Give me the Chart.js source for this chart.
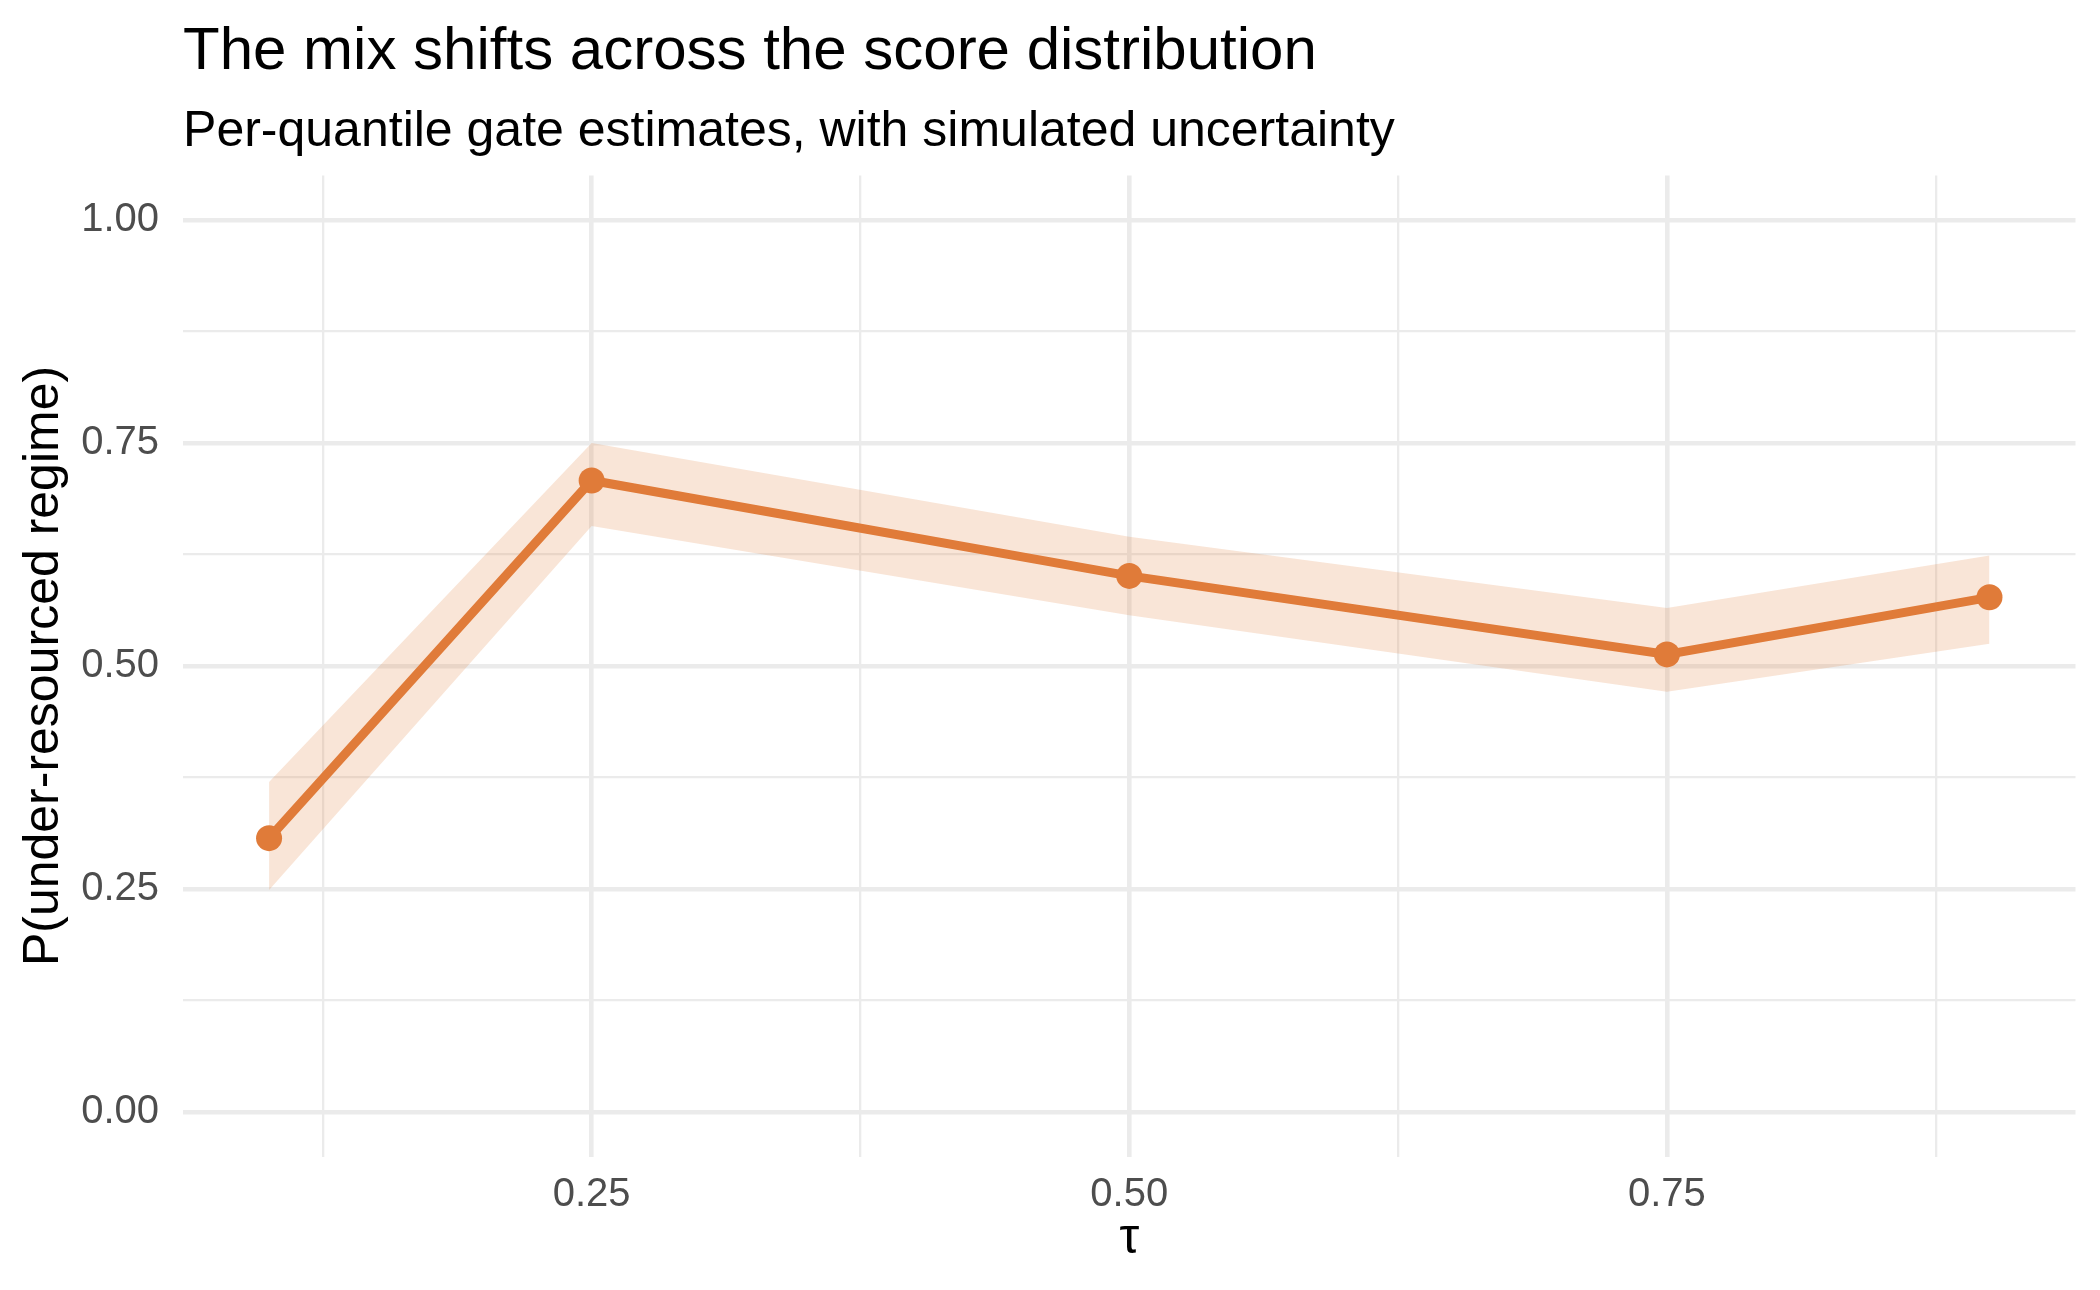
<!DOCTYPE html>
<html>
<head>
<meta charset="utf-8">
<script src="https://cdn.jsdelivr.net/npm/chart.js@4/dist/chart.umd.min.js"></script>
<style>
  html, body { margin: 0; padding: 0; background: #ffffff; }
  #wrap { width: 2100px; height: 1290px; }
</style>
</head>
<body>
<div id="wrap"><canvas id="c" width="2100" height="1290"></canvas></div>
<script>
// ---- data ----
const tau      = [0.10, 0.25, 0.50, 0.75, 0.90];
const estimate = [0.307, 0.708, 0.601, 0.513, 0.577];
const lower    = [0.249, 0.657, 0.557, 0.471, 0.525];
const upper    = [0.370, 0.750, 0.645, 0.565, 0.624];

const xTickValues = [0.125, 0.25, 0.375, 0.50, 0.625, 0.75, 0.875];
const xTickLabels = ['', '0.25', '', '0.50', '', '0.75', ''];
const yTickValues = [0, 0.125, 0.25, 0.375, 0.50, 0.625, 0.75, 0.875, 1.00];
const yTickLabels = ['0.00', '', '0.25', '', '0.50', '', '0.75', '', '1.00'];

const titleText    = 'The mix shifts across the score distribution';
const subtitleText = 'Per-quantile gate estimates, with simulated uncertainty';
const xTitle = 'τ';
const yTitle = 'P(under-resourced regime)';

// ---- styles ----
const FONT = '"Liberation Sans", Arial, Helvetica, sans-serif';
const ORANGE = '#E07B39';
const BAND = 'rgba(224,123,57,0.2)';
const GRID = '#EBEBEB';

const pts = (ys) => tau.map((t, i) => ({ x: t, y: ys[i] }));

function isMajor(v) { return Math.abs(v * 4 - Math.round(v * 4)) < 1e-9; }

const ctx = document.getElementById('c').getContext('2d');
new Chart(ctx, {
  type: 'line',
  data: {
    datasets: [
      {
        label: 'estimate',
        data: pts(estimate),
        borderColor: ORANGE,
        backgroundColor: ORANGE,
        borderWidth: 9,
        pointRadius: 13,
        pointHoverRadius: 13,
        pointBorderWidth: 0,
        pointBackgroundColor: ORANGE,
        fill: false,
        tension: 0
      },
      {
        label: 'upper',
        data: pts(upper),
        borderWidth: 0,
        borderColor: 'rgba(0,0,0,0)',
        pointRadius: 0,
        fill: false,
        tension: 0
      },
      {
        label: 'lower',
        data: pts(lower),
        borderWidth: 0,
        borderColor: 'rgba(0,0,0,0)',
        backgroundColor: BAND,
        pointRadius: 0,
        fill: '-1',
        tension: 0
      }
    ]
  },
  options: {
    responsive: false,
    animation: false,
    devicePixelRatio: 1,
    layout: { padding: { left: 14.5, right: 24.5, top: 0, bottom: 21 } },
    plugins: {
      legend: { display: false },
      tooltip: { enabled: false },
      title: {
        display: true,
        text: titleText,
        align: 'start',
        fullSize: false,
        color: '#000000',
        font: { family: FONT, size: 60, weight: 'normal', lineHeight: 1.2 },
        padding: { top: 16, bottom: 3 }
      },
      subtitle: {
        display: true,
        text: subtitleText,
        align: 'start',
        fullSize: false,
        color: '#000000',
        font: { family: FONT, size: 50, weight: 'normal', lineHeight: 1.2 },
        padding: { top: 10.9, bottom: 13.5 }
      }
    },
    scales: {
      x: {
        type: 'linear',
        min: 0.06,
        max: 0.94,
        border: { display: false },
        grid: {
          color: GRID,
          drawTicks: false,
          lineWidth: (c) => (c.tick && isMajor(c.tick.value)) ? 4.6 : 2.3
        },
        afterBuildTicks: (scale) => { scale.ticks = xTickValues.map(v => ({ value: v })); },
        ticks: {
          autoSkip: false,
          maxRotation: 0,
          padding: 14,
          color: '#4D4D4D',
          font: { family: FONT, size: 40, lineHeight: 1.2 },
          callback: (v, i) => xTickLabels[i]
        },
        title: {
          display: true,
          text: xTitle,
          color: '#000000',
          font: { family: FONT, size: 50, lineHeight: 1.2 },
          padding: { top: -23.6, bottom: 0 }
        }
      },
      y: {
        type: 'linear',
        min: -0.05,
        max: 1.05,
        border: { display: false },
        grid: {
          color: GRID,
          drawTicks: false,
          lineWidth: (c) => (c.tick && isMajor(c.tick.value)) ? 4.6 : 2.3
        },
        afterBuildTicks: (scale) => { scale.ticks = yTickValues.map(v => ({ value: v })); },
        ticks: {
          autoSkip: false,
          padding: 24,
          color: '#4D4D4D',
          font: { family: FONT, size: 40, lineHeight: 1.2 },
          callback: (v, i) => yTickLabels[i]
        },
        title: {
          display: true,
          text: yTitle,
          color: '#000000',
          font: { family: FONT, size: 50, lineHeight: 1.2 },
          padding: { top: 0, bottom: -17.3 }
        }
      }
    }
  }
});
</script>
</body>
</html>
